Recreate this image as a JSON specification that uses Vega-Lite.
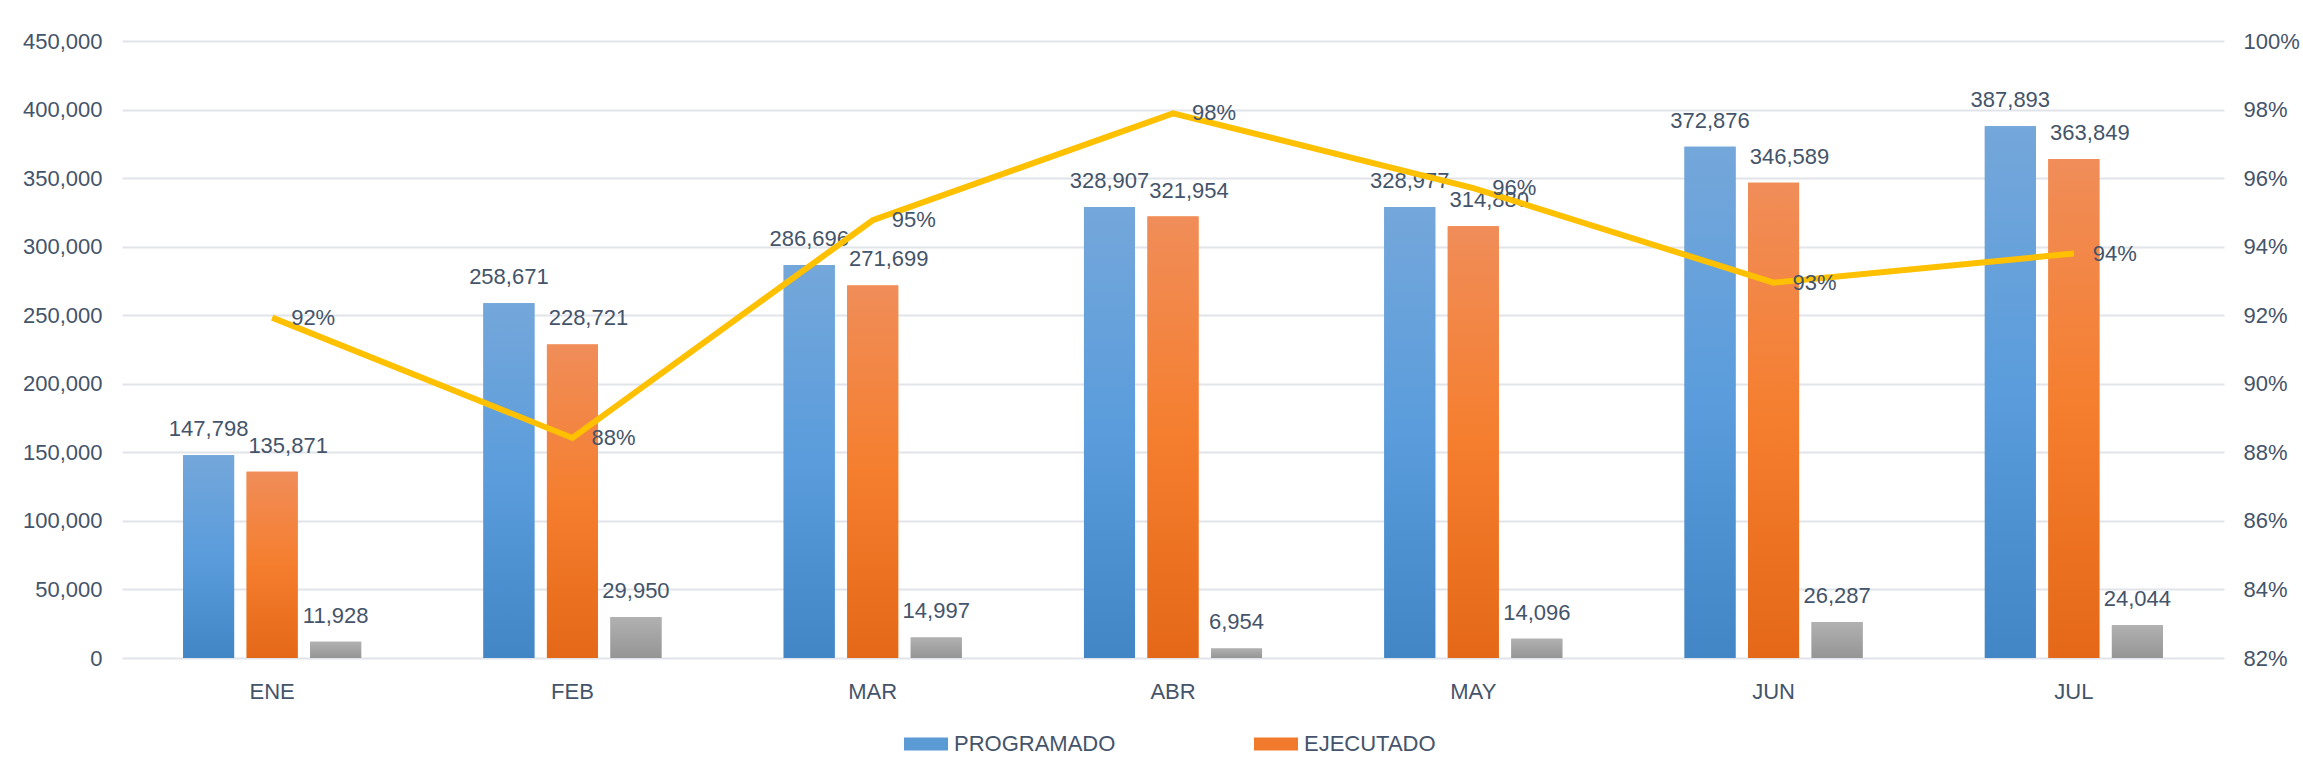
{
  "$schema": "https://vega.github.io/schema/vega-lite/v6.json",
  "width": 2102,
  "height": 617,
  "autosize": "none",
  "padding": {"left": 122, "top": 41, "right": 79, "bottom": 117},
  "background": "white",
  "config": {
    "font": "Liberation Sans",
    "view": {"stroke": null},
    "axis": {
      "labelFont": "Liberation Sans",
      "labelFontSize": 22,
      "labelColor": "#44546A",
      "ticks": false,
      "domain": false,
      "title": null,
      "gridColor": "#E1E4E9",
      "gridWidth": 2
    }
  },
  "datasets": {
    "barras": [
      {"mes": "ENE", "serie": "PROGRAMADO", "valor": 147798},
      {"mes": "ENE", "serie": "EJECUTADO", "valor": 135871},
      {"mes": "ENE", "serie": "DIFERENCIA", "valor": 11928},
      {"mes": "FEB", "serie": "PROGRAMADO", "valor": 258671},
      {"mes": "FEB", "serie": "EJECUTADO", "valor": 228721},
      {"mes": "FEB", "serie": "DIFERENCIA", "valor": 29950},
      {"mes": "MAR", "serie": "PROGRAMADO", "valor": 286696},
      {"mes": "MAR", "serie": "EJECUTADO", "valor": 271699},
      {"mes": "MAR", "serie": "DIFERENCIA", "valor": 14997},
      {"mes": "ABR", "serie": "PROGRAMADO", "valor": 328907},
      {"mes": "ABR", "serie": "EJECUTADO", "valor": 321954},
      {"mes": "ABR", "serie": "DIFERENCIA", "valor": 6954},
      {"mes": "MAY", "serie": "PROGRAMADO", "valor": 328977},
      {"mes": "MAY", "serie": "EJECUTADO", "valor": 314880},
      {"mes": "MAY", "serie": "DIFERENCIA", "valor": 14096},
      {"mes": "JUN", "serie": "PROGRAMADO", "valor": 372876},
      {"mes": "JUN", "serie": "EJECUTADO", "valor": 346589},
      {"mes": "JUN", "serie": "DIFERENCIA", "valor": 26287},
      {"mes": "JUL", "serie": "PROGRAMADO", "valor": 387893},
      {"mes": "JUL", "serie": "EJECUTADO", "valor": 363849},
      {"mes": "JUL", "serie": "DIFERENCIA", "valor": 24044}
    ],
    "linea": [
      {"mes": "ENE", "pct": 0.9193},
      {"mes": "FEB", "pct": 0.8842},
      {"mes": "MAR", "pct": 0.9477},
      {"mes": "ABR", "pct": 0.9789},
      {"mes": "MAY", "pct": 0.9571},
      {"mes": "JUN", "pct": 0.9295},
      {"mes": "JUL", "pct": 0.9380}
    ]
  },
  "encoding": {
    "x": {
      "field": "mes",
      "type": "nominal",
      "sort": ["ENE", "FEB", "MAR", "ABR", "MAY", "JUN", "JUL"],
      "scale": {"paddingInner": 0.407, "paddingOuter": 0.2035},
      "axis": {"labelAngle": 0, "labelPadding": 23, "grid": false}
    }
  },
  "layer": [
    {
      "data": {"name": "barras"},
      "encoding": {
        "xOffset": {
          "field": "serie",
          "type": "nominal",
          "scale": {"domain": ["PROGRAMADO", "EJECUTADO", "DIFERENCIA"], "paddingInner": 0.197, "paddingOuter": 0}
        },
        "y": {
          "field": "valor",
          "type": "quantitative",
          "scale": {"domain": [0, 450000], "nice": false},
          "axis": {"orient": "left", "values": [0, 50000, 100000, 150000, 200000, 250000, 300000, 350000, 400000, 450000], "format": ",d", "labelPadding": 20, "grid": true}
        }
      },
      "layer": [
        {
          "mark": {"type": "bar"},
          "encoding": {
            "color": {
              "field": "serie",
              "type": "nominal",
              "scale": {
                "domain": ["PROGRAMADO", "EJECUTADO", "DIFERENCIA"],
                "range": ["#5B9BD5", "#F27A2C", "#A5A5A5"]
              },
              "legend": {
                "values": ["PROGRAMADO", "EJECUTADO"],
                "title": null,
                "orient": "none",
                "direction": "horizontal",
                "legendX": 782,
                "legendY": 681,
                "symbolType": "M-1,-0.3H1V0.3H-1Z",
                "symbolSize": 1936,
                "symbolStrokeWidth": 0,
                "symbolOpacity": 1,
                "labelFont": "Liberation Sans",
                "labelFontSize": 22,
                "labelColor": "#44546A",
                "labelOffset": 6,
                "labelLimit": 0,
                "columnPadding": 138
              }
            }
          }
        },
        {
          "transform": [{"filter": "datum.serie === 'PROGRAMADO'"}],
          "mark": {"type": "bar", "color": {"gradient": "linear", "x1": 0, "y1": 0, "x2": 0, "y2": 1, "stops": [{"offset": 0, "color": "#74A7DA"}, {"offset": 0.5, "color": "#5A9CDC"}, {"offset": 1, "color": "#4286C6"}]}}
        },
        {
          "transform": [{"filter": "datum.serie === 'EJECUTADO'"}],
          "mark": {"type": "bar", "color": {"gradient": "linear", "x1": 0, "y1": 0, "x2": 0, "y2": 1, "stops": [{"offset": 0, "color": "#F08D59"}, {"offset": 0.5, "color": "#F57E2E"}, {"offset": 1, "color": "#E46817"}]}}
        },
        {
          "transform": [{"filter": "datum.serie === 'DIFERENCIA'"}],
          "mark": {"type": "bar", "color": {"gradient": "linear", "x1": 0, "y1": 0, "x2": 0, "y2": 1, "stops": [{"offset": 0, "color": "#B1B1B1"}, {"offset": 1, "color": "#959595"}]}}
        },
        {
          "transform": [{"filter": "datum.serie === 'PROGRAMADO'"}],
          "mark": {"type": "text", "baseline": "alphabetic", "dy": -19, "fontSize": 22, "color": "#44546A"},
          "encoding": {"text": {"field": "valor", "type": "quantitative", "format": ",d"}}
        },
        {
          "transform": [{"filter": "datum.serie === 'EJECUTADO'"}],
          "mark": {"type": "text", "baseline": "alphabetic", "dy": -19, "dx": 16, "fontSize": 22, "color": "#44546A"},
          "encoding": {"text": {"field": "valor", "type": "quantitative", "format": ",d"}}
        },
        {
          "transform": [{"filter": "datum.serie === 'DIFERENCIA'"}],
          "mark": {"type": "text", "baseline": "alphabetic", "dy": -19, "fontSize": 22, "color": "#44546A"},
          "encoding": {"text": {"field": "valor", "type": "quantitative", "format": ",d"}}
        }
      ]
    },
    {
      "data": {"name": "linea"},
      "encoding": {
        "y": {
          "field": "pct",
          "type": "quantitative",
          "scale": {"domain": [0.82, 1.0], "nice": false, "zero": false},
          "axis": {"orient": "right", "values": [0.82, 0.84, 0.86, 0.88, 0.9, 0.92, 0.94, 0.96, 0.98, 1.0], "format": ".0%", "labelPadding": 19, "grid": false}
        }
      },
      "layer": [
        {
          "mark": {"type": "line", "color": "#FFC000", "strokeWidth": 6}
        },
        {
          "mark": {"type": "text", "align": "left", "baseline": "middle", "dx": 19, "fontSize": 22, "color": "#44546A"},
          "encoding": {"text": {"field": "pct", "type": "quantitative", "format": ".0%"}}
        }
      ]
    }
  ],
  "resolve": {"scale": {"y": "independent"}}
}
